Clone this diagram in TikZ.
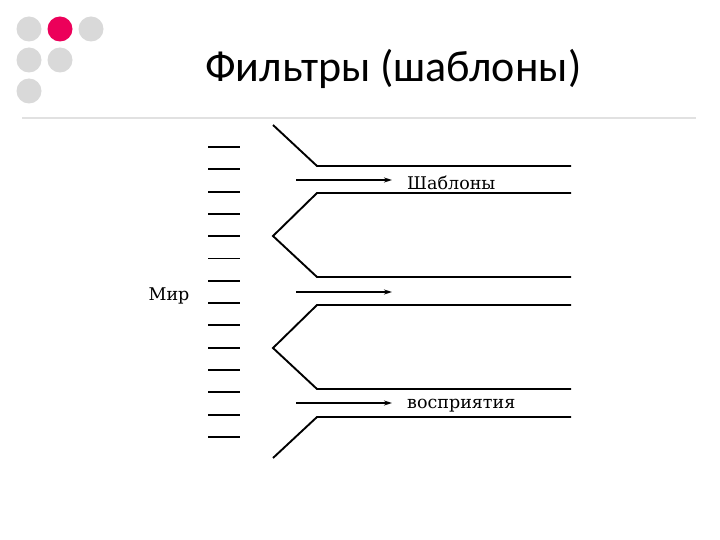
\documentclass[tikz,border=0pt]{standalone}
\usepackage{fontspec}
\setmainfont{Carlito}
\newfontfamily\scanfont{DejaVu Serif}
\usetikzlibrary{arrows.meta}
\definecolor{dotgray}{RGB}{217,217,217}
\definecolor{dotpink}{RGB}{236,0,90}
\definecolor{rulegray}{RGB}{225,225,225}
\tikzset{
  dot/.style={circle,fill=#1,minimum size=25pt,inner sep=0pt},
  wall/.style={line width=1.9pt,black,line join=miter},
  tick/.style={line width=1.9pt,black},
  flow/.style={line width=1.5pt,black,-{Stealth[length=8pt,width=5pt]}},
  lbl/.style={font=\scanfont\fontsize{17.5}{20}\selectfont,anchor=west,inner sep=0pt}
}
\begin{document}
\begin{tikzpicture}[x=1pt,y=-1pt]
\useasboundingbox (0,0) rectangle (720,540);
\fill[white] (0,0) rectangle (720,540);
% decorative dots
\node[dot=dotgray] (d1) at (29,29) {};
\node[dot=dotpink] (d2) at (60,29) {};
\node[dot=dotgray] (d3) at (91,29) {};
\node[dot=dotgray] (d4) at (29,60) {};
\node[dot=dotgray] (d5) at (60,60) {};
\node[dot=dotgray] (d6) at (29,91) {};
% title
\node[anchor=base west,inner sep=0pt,font=\fontsize{44}{48}\selectfont] (title) at (205,82) {Фильтры (шаблоны)};
\draw[rulegray,line width=2pt] (22,118) -- (696,118);
% world ticks
\foreach \i in {0,...,13} {
  \draw[tick] (208,{147+22.3*\i}) -- (240,{147+22.3*\i});
}
\node[font=\scanfont\fontsize{17.5}{20}\selectfont,inner sep=0pt] (mir) at (169,296) {Мир};
% walls
\draw[wall] (273,125) -- (317,166) -- (571,166);
\draw[wall] (571,193) -- (317,193) -- (273,236) -- (317,277) -- (571,277);
\draw[wall] (571,305) -- (317,305) -- (273,348) -- (317,389) -- (571,389);
\draw[wall] (571,417) -- (317,417) -- (273,458);
% arrows
\coordinate (a1s) at (296,180); \coordinate (a1e) at (392,180);
\coordinate (a2s) at (296,292); \coordinate (a2e) at (392,292);
\coordinate (a3s) at (296,403); \coordinate (a3e) at (392,403);
\draw[flow] (a1s) -- (a1e);
\draw[flow] (a2s) -- (a2e);
\draw[flow,line width=2.2pt] (a3s) -- (a3e);
\node[lbl] (t1) at (407,183) {Шаблоны};
\node[lbl] (t2) at (407,406) {восприятия};
\end{tikzpicture}
\end{document}
